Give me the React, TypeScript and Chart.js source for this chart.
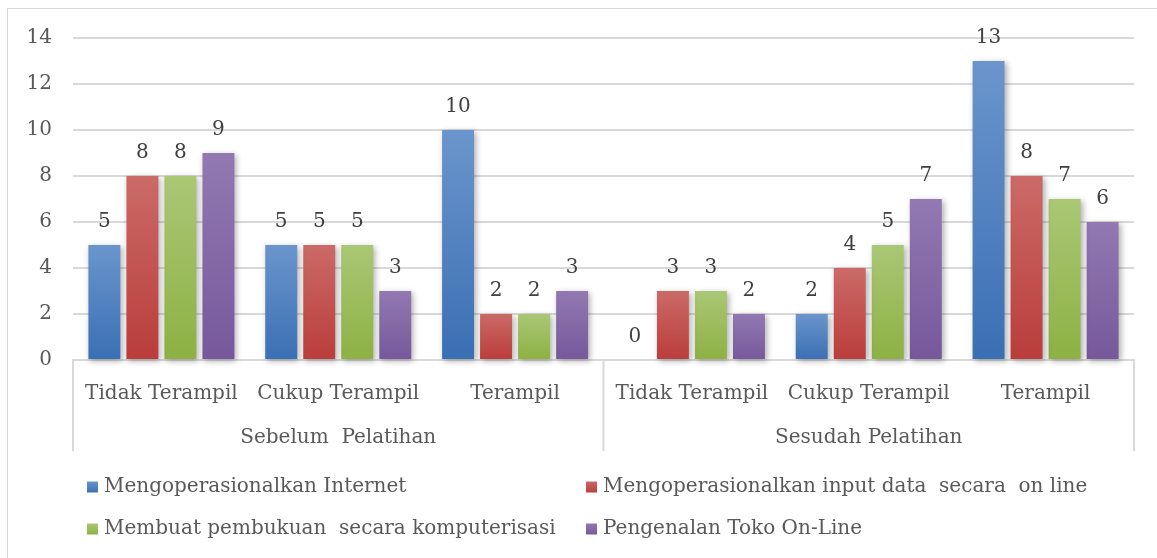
import React, { useEffect, useRef } from "react";
import { Chart, registerables } from "chart.js";

Chart.register(...registerables);

const categories = [
  "Tidak Terampil",
  "Cukup Terampil",
  "Terampil",
  "Tidak Terampil",
  "Cukup Terampil",
  "Terampil",
];
const groups = ["Sebelum  Pelatihan", "Sesudah Pelatihan"];
const groupSizes = [3, 3];

const seriesNames = [
  "Mengoperasionalkan Internet",
  "Mengoperasionalkan input data  secara  on line",
  "Membuat pembukuan  secara komputerisasi",
  "Pengenalan Toko On-Line",
];
const internet = [5, 5, 10, 0, 2, 13];
const inputData = [8, 5, 2, 3, 4, 8];
const pembukuan = [8, 5, 2, 3, 5, 7];
const tokoOnline = [9, 3, 3, 2, 7, 6];

const yMin = 0;
const yMax = 14;
const yStep = 2;

const seriesTop = ["#6b95cc", "#cb6a67", "#aac775", "#9279b2"];
const seriesBottom = ["#3a6fb4", "#ba3d3a", "#8db143", "#76589b"];

const FONT = "'DejaVu Serif', serif";
const FS = 20;

function gradientFor(i: number) {
  return (ctx: any) => {
    const chart = ctx.chart;
    const ys = chart.scales && chart.scales.y;
    if (!chart.chartArea || !ys || ctx.raw === undefined) return seriesBottom[i];
    const top = ys.getPixelForValue(ctx.raw);
    const bottom = ys.getPixelForValue(0);
    if (!isFinite(top) || !isFinite(bottom) || Math.abs(bottom - top) < 1) return seriesBottom[i];
    const g = chart.ctx.createLinearGradient(0, top, 0, bottom);
    g.addColorStop(0, seriesTop[i]);
    g.addColorStop(1, seriesBottom[i]);
    return g;
  };
}

const decorPlugin = {
  id: "decor",
  beforeDatasetsDraw(chart: any) {
    const c = chart.ctx;
    c.save();
    c.shadowColor = "rgba(0,0,0,0.32)";
    c.shadowBlur = 6;
    c.shadowOffsetX = 2;
    c.shadowOffsetY = 2;
  },
  afterDatasetsDraw(chart: any) {
    const c = chart.ctx;
    c.restore();
    c.save();
    c.font = `${FS}px ${FONT}`;
    c.fillStyle = "#404040";
    c.textAlign = "center";
    c.textBaseline = "middle";
    chart.data.datasets.forEach((ds: any, i: number) => {
      const meta = chart.getDatasetMeta(i);
      meta.data.forEach((el: any, j: number) => {
        c.fillText(String(ds.data[j]), el.x, el.y - 23);
      });
    });
    c.restore();
  },
  afterDraw(chart: any) {
    const c = chart.ctx;
    const x = chart.scales.x;
    const area = chart.chartArea;
    const y0 = area.bottom;
    const y1 = y0 + 91;
    c.save();
    c.strokeStyle = "#d9d9d9";
    c.lineWidth = 2;
    const bounds: number[] = [x.left];
    let idx = 0;
    groupSizes.forEach((n, gi) => {
      idx += n;
      if (gi < groupSizes.length - 1) {
        bounds.push((x.getPixelForValue(idx - 1) + x.getPixelForValue(idx)) / 2);
      }
    });
    bounds.push(x.right);
    bounds.forEach((bx) => {
      c.beginPath();
      c.moveTo(bx, y0);
      c.lineTo(bx, y1);
      c.stroke();
    });
    c.font = `${FS}px ${FONT}`;
    c.fillStyle = "#595959";
    c.textAlign = "center";
    c.textBaseline = "middle";
    groups.forEach((g, gi) => {
      c.fillText(g, (bounds[gi] + bounds[gi + 1]) / 2, y0 + 78);
    });
    const rowsY = [478, 520];
    const colsX = [79, 578];
    seriesNames.forEach((name, i) => {
      const r = Math.floor(i / 2);
      const col = i % 2;
      const bx = colsX[col];
      const by = rowsY[r];
      const g = c.createLinearGradient(0, by - 6, 0, by + 6);
      g.addColorStop(0, seriesTop[i]);
      g.addColorStop(1, seriesBottom[i]);
      c.fillStyle = g;
      c.fillRect(bx, by - 5.5, 11, 11);
      c.fillStyle = "#595959";
      c.textAlign = "left";
      c.fillText(name, bx + 17, by);
    });
    c.restore();
  },
};

export default function App() {
  const ref = useRef<HTMLCanvasElement | null>(null);
  useEffect(() => {
    if (!ref.current) return;
    const data = {
      labels: categories,
      datasets: [internet, inputData, pembukuan, tokoOnline].map((vals, i) => ({
        label: seriesNames[i],
        data: vals,
        backgroundColor: gradientFor(i),
        borderWidth: 0,
        categoryPercentage: 0.86,
        barPercentage: 0.84,
        clip: false as any,
      })),
    };
    const chart = new Chart(ref.current, {
      type: "bar",
      data,
      plugins: [decorPlugin],
      options: {
        animation: false,
        responsive: false,
        devicePixelRatio: 1,
        layout: { padding: { left: 0, right: 23, top: 29, bottom: 107 } },
        plugins: {
          legend: { display: false },
          tooltip: { enabled: false },
          title: { display: false },
        },
        scales: {
          x: {
            grid: { display: false, drawTicks: false },
            border: { display: true, color: "#d9d9d9", width: 2 },
            ticks: {
              color: "#595959",
              font: { family: FONT, size: FS },
              padding: 22,
              maxRotation: 0,
              autoSkip: false,
            },
            afterFit(scale: any) {
              scale.height = 91;
              scale.paddingLeft = 0;
              scale.paddingRight = 0;
            },
          },
          y: {
            min: yMin,
            max: yMax,
            grid: { color: "#d9d9d9", lineWidth: 2, drawTicks: false },
            border: { display: false },
            ticks: {
              stepSize: yStep,
              color: "#595959",
              font: { family: FONT, size: FS },
              padding: 21,
            },
            afterFit(scale: any) {
              scale.width = 65;
              scale.paddingTop = 0;
              scale.paddingBottom = 0;
            },
          },
        },
      },
    });
    return () => chart.destroy();
  }, []);
  return (
    <div
      style={{
        position: "absolute",
        left: 7,
        top: 8,
        width: 1149,
        height: 549,
        borderLeft: "1px solid #d9d9d9",
        borderTop: "1px solid #d9d9d9",
        background: "#fff",
      }}
    >
      <canvas ref={ref} width={1149} height={549} style={{ display: "block" }} />
    </div>
  );
}
